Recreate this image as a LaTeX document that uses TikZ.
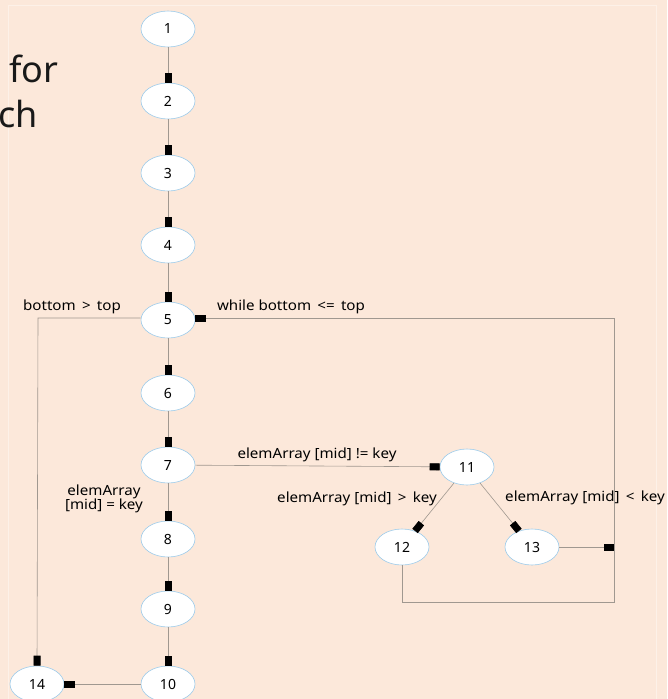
\documentclass[tikz,border=0pt]{standalone}
\usepackage{fontspec}
\setmainfont{Noto Sans}
\newfontfamily\labelfont[FakeStretch=1.08]{Noto Sans}
\usetikzlibrary{arrows.meta,shapes.geometric}
\definecolor{bgpeach}{HTML}{FCE8DA}
\definecolor{framepeach}{HTML}{FDF1E8}
\definecolor{edgegray}{HTML}{A09890}
\definecolor{nodeblue}{HTML}{9CCBEA}
\tikzset{
  flownode/.style={ellipse, draw=nodeblue, fill=white, line width=0.6pt,
    minimum width=54pt, minimum height=36pt, inner sep=0pt, font=\fontsize{14}{15}\selectfont},
  flowedge/.style={draw=edgegray, line width=0.6pt,
    -{Square[length=10pt,width=7pt,black]}},
  plainedge/.style={draw=edgegray, line width=0.6pt},
  edgelabel/.style={font=\labelfont\fontsize{14}{15}\selectfont, text=black, inner sep=0pt, align=center},
}
\begin{document}
\begin{tikzpicture}[x=1pt,y=-1pt]
  % canvas
  \fill[bgpeach] (0,0) rectangle (667,699);
  \useasboundingbox (0,0) rectangle (667,699);
  \draw[framepeach, line width=1pt] (8,705) -- (8,5) -- (656,5) -- (656,705);

  % cut-off slide title
  \node[anchor=base west, inner sep=0pt, font=\fontsize{36}{40}\selectfont, text=black!90] (tfor) at (9,82) {for};
  \node[anchor=base west, inner sep=0pt, font=\fontsize{36}{40}\selectfont, text=black!90] (tch) at (-2,127) {ch};

  % nodes
  \node[flownode] (n1)  at (168,29)  {1};
  \node[flownode] (n2)  at (168,101) {2};
  \node[flownode] (n3)  at (168,173) {3};
  \node[flownode] (n4)  at (168,245) {4};
  \node[flownode] (n5)  at (168,320) {5};
  \node[flownode] (n6)  at (168,393) {6};
  \node[flownode] (n7)  at (168,465) {7};
  \node[flownode] (n8)  at (168,539) {8};
  \node[flownode] (n9)  at (168,609) {9};
  \node[flownode] (n10) at (168,684) {10};
  \node[flownode] (n11) at (467,467) {11};
  \node[flownode] (n12) at (402,547) {12};
  \node[flownode] (n13) at (532,547) {13};
  \node[flownode] (n14) at (37,684)  {14};

  % corner points of the loop-back route
  \coordinate (loopTR) at (614,318);
  \coordinate (loopBR) at (614,602);
  \coordinate (loopBL) at (402,602);
  \coordinate (loopMid) at (614,547);
  \coordinate (exitL) at (38,318);

  % straight chain
  \draw[flowedge] (n1) -- (n2);
  \draw[flowedge] (n2) -- (n3);
  \draw[flowedge] (n3) -- (n4);
  \draw[flowedge] (n4) -- (n5);
  \draw[flowedge] (n5) -- (n6);
  \draw[flowedge] (n6) -- (n7);
  \draw[flowedge] (n7) -- (n8);
  \draw[flowedge] (n8) -- (n9);
  \draw[flowedge] (n9) -- (n10);
  \draw[flowedge] (n10) -- (n14);

  % exit of the loop
  \draw[flowedge] (n5.west |- exitL) -- (exitL) -- (n14.north);

  % branches from 7 and 11
  \draw[flowedge] (n7) -- (n11);
  \draw[flowedge] (n11) -- (n12);
  \draw[flowedge] (n11) -- (n13);

  % back to the loop head
  \draw[flowedge] (n13) -- (loopMid);
  \draw[plainedge] (n12.south) -- (loopBL) -- (loopBR) -- (loopTR);
  \draw[flowedge] (loopTR) -- (n5.east |- loopTR);

  % labels
  \node[edgelabel] (lexit) at (72,307) {bottom \,>\, top};
  \node[edgelabel] (lwhile) at (291,307) {while bottom \,<=\, top};
  \node[edgelabel] (lneq) at (317,455) {elemArray [mid] != key};
  \node[edgelabel] (lgt) at (357,499) {elemArray [mid] \,>\, key};
  \node[edgelabel] (llt) at (585,498) {elemArray [mid] \,<\, key};
  \node[edgelabel] (leq) at (104,499) {elemArray\\[-1pt][mid] = key};
\end{tikzpicture}
\end{document}
